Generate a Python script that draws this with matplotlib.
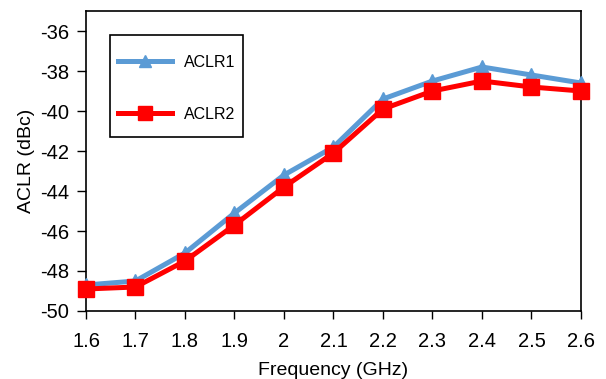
import matplotlib
matplotlib.use('Agg')
from matplotlib import pyplot as plt
import matplotlib.patches as patches

plt.rcParams['font.family'] = ['Liberation Sans', 'DejaVu Sans']
plt.rcParams['axes.unicode_minus'] = False

freq = [1.6, 1.7, 1.8, 1.9, 2.0, 2.1, 2.2, 2.3, 2.4, 2.5, 2.6]
aclr1 = [-48.7, -48.5, -47.1, -45.1, -43.2, -41.8, -39.4, -38.5, -37.8, -38.2, -38.6]
aclr2 = [-48.9, -48.8, -47.5, -45.7, -43.8, -42.1, -39.9, -39.0, -38.5, -38.8, -39.0]
xticks = [1.6, 1.7, 1.8, 1.9, 2.0, 2.1, 2.2, 2.3, 2.4, 2.5, 2.6]
xlabels = ['1.6', '1.7', '1.8', '1.9', '2', '2.1', '2.2', '2.3', '2.4', '2.5', '2.6']
yticks = [-50, -48, -46, -44, -42, -40, -38, -36]

fig = plt.figure(figsize=(6.06, 3.79), dpi=100)
ax = fig.add_axes([86/606, 1-311/379, (581-86)/606, (311-11)/379])

ax.plot(freq, aclr1, color='#5b9bd5', lw=3.6, marker='^', ms=10, label='ACLR1', clip_on=False, zorder=3)
ax.plot(freq, aclr2, color='#ff0000', lw=3.6, marker='s', ms=11.5, label='ACLR2', clip_on=False, zorder=4)

ax.set_xlim(1.6, 2.6)
ax.set_ylim(-50, -35)
ax.set_xticks(xticks)
ax.set_xticklabels(xlabels)
ax.set_yticks(yticks)
ax.tick_params(labelsize=14.5, direction='out', width=1)
ax.tick_params(axis='x', length=6, pad=9)
ax.tick_params(axis='y', length=6.5, pad=5.5)
for s in ax.spines.values():
    s.set_linewidth(1.2)

ax.set_xlabel('Frequency (GHz)', fontsize=14, labelpad=8)
ax.set_ylabel('ACLR (dBc)', fontsize=14, labelpad=4)

# legend box drawn separately so its padding can differ from the entry spacing
ax.add_patch(patches.Rectangle((24/495, 1-126/300), 133/495, 102/300, transform=ax.transAxes,
                               facecolor='white', edgecolor='black', linewidth=1.2, zorder=5))
leg = ax.legend(loc='upper left', bbox_to_anchor=(32/495, 1-44/300), fontsize=11.5,
                frameon=False, labelspacing=2.3, handlelength=3.4, borderpad=0,
                handletextpad=0.7, borderaxespad=0, markerscale=0.85)
leg.set_zorder(6)

fig.savefig('out.png', dpi=100)
